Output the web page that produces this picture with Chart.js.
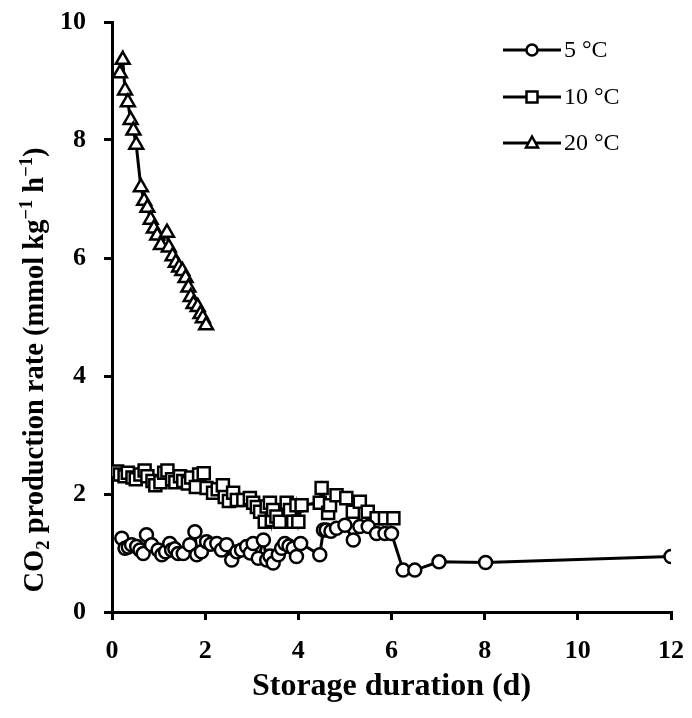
<!DOCTYPE html>
<html>
<head>
<meta charset="utf-8">
<script src="https://cdn.jsdelivr.net/npm/chart.js@4"></script>
<style>
  body { margin: 0; background: #fff; }
  canvas { display: block; }
</style>
</head>
<body>
<canvas id="co2Chart" width="692" height="718"></canvas>
<script>
// storage time (d) and CO2 rate (mmol kg-1 h-1)
var days5 = [0.21, 0.28, 0.35, 0.42, 0.53, 0.60, 0.67, 0.74, 0.85, 0.99, 1.07, 1.15, 1.24, 1.28, 1.35, 1.42, 1.53, 1.67, 1.78, 1.82, 1.92, 2.03, 2.12, 2.25, 2.35, 2.46, 2.57, 2.68, 2.78, 2.89, 2.97, 3.03, 3.14, 3.25, 3.32, 3.39, 3.46, 3.57, 3.64, 3.71, 3.80, 3.89, 3.96, 4.05, 4.46, 4.54, 4.60, 4.70, 4.82, 5.00, 5.18, 5.32, 5.50, 5.68, 5.86, 6.00, 6.25, 6.50, 7.02, 8.02, 12.0];
var rate5 = [1.25, 1.08, 1.10, 1.14, 1.11, 1.05, 0.99, 1.31, 1.14, 1.05, 0.97, 1.02, 1.16, 1.05, 1.07, 0.99, 0.99, 1.14, 1.36, 0.97, 1.02, 1.19, 1.15, 1.16, 1.05, 1.14, 0.88, 1.02, 1.05, 1.11, 1.00, 1.16, 0.91, 1.22, 0.88, 0.95, 0.83, 0.97, 1.08, 1.16, 1.12, 1.08, 0.94, 1.16, 0.97, 1.39, 1.39, 1.37, 1.42, 1.47, 1.22, 1.45, 1.45, 1.33, 1.33, 1.33, 0.71, 0.71, 0.85, 0.84, 0.94];

var days10 = [0.11, 0.17, 0.27, 0.34, 0.44, 0.51, 0.61, 0.70, 0.76, 0.87, 0.93, 1.04, 1.12, 1.19, 1.29, 1.36, 1.46, 1.53, 1.63, 1.70, 1.80, 1.87, 1.97, 2.03, 2.17, 2.27, 2.38, 2.42, 2.51, 2.60, 2.68, 2.82, 2.96, 3.03, 3.11, 3.18, 3.28, 3.32, 3.39, 3.43, 3.46, 3.53, 3.60, 3.75, 3.82, 3.89, 3.96, 4.00, 4.07, 4.46, 4.50, 4.64, 4.68, 4.82, 5.03, 5.17, 5.32, 5.49, 5.68, 5.86, 6.04];
var rate10 = [2.38, 2.33, 2.30, 2.36, 2.28, 2.25, 2.33, 2.40, 2.30, 2.22, 2.15, 2.20, 2.36, 2.40, 2.25, 2.20, 2.30, 2.22, 2.18, 2.28, 2.12, 2.33, 2.35, 2.10, 2.02, 2.08, 2.15, 1.95, 1.88, 2.02, 1.90, 1.90, 1.93, 1.85, 1.78, 1.70, 1.53, 1.79, 1.85, 1.56, 1.73, 1.62, 1.53, 1.85, 1.73, 1.53, 1.81, 1.53, 1.81, 1.85, 2.10, 1.68, 1.81, 1.98, 1.93, 1.70, 1.87, 1.70, 1.59, 1.59, 1.59];

var days20 = [0.17, 0.23, 0.28, 0.34, 0.40, 0.46, 0.52, 0.62, 0.69, 0.76, 0.83, 0.90, 0.97, 1.05, 1.18, 1.22, 1.30, 1.37, 1.44, 1.51, 1.58, 1.64, 1.69, 1.75, 1.84, 1.90, 1.95, 2.02];
var rate20 = [9.13, 9.36, 8.84, 8.64, 8.34, 8.16, 7.92, 7.20, 6.97, 6.85, 6.65, 6.50, 6.38, 6.22, 6.43, 6.18, 6.03, 5.92, 5.84, 5.78, 5.66, 5.50, 5.34, 5.22, 5.17, 5.05, 4.98, 4.86];

var seriesNames = ['5 °C', '10 °C', '20 °C'];
var xTicks = [0, 2, 4, 6, 8, 10, 12];
var yTicks = [0, 2, 4, 6, 8, 10];

var serif = '"Liberation Serif", "Times New Roman", serif';
var markerSize = { circle: 6.5, rect: 8.5, triangle: 8 };

function toPoints(xs, ys) {
    var pts = [];
    for (var i = 0; i < xs.length; i++) pts.push({ x: xs[i], y: ys[i] });
    return pts;
}

function makeSet(label, xs, ys, style) {
    return {
        label: label,
        data: toPoints(xs, ys),
        showLine: true,
        borderColor: '#000',
        borderWidth: 3,
        pointStyle: style,
        pointRadius: markerSize[style],
        pointBorderWidth: 2.5,
        pointBackgroundColor: '#fff',
        pointBorderColor: '#000'
    };
}

// legend drawn by hand: line - marker - line, then the label
var legendLines = {
    id: 'legendLines',
    afterDraw: function(chart) {
        var ctx = chart.ctx;
        var rowsY = [50, 97, 143];
        ctx.save();
        chart.data.datasets.forEach(function(ds, i) {
            var y = rowsY[i];
            ctx.strokeStyle = '#000';
            ctx.lineWidth = 3;
            ctx.beginPath();
            ctx.moveTo(503, y);
            ctx.lineTo(561, y);
            ctx.stroke();
            ctx.fillStyle = '#fff';
            ctx.lineWidth = 2.5;
            ctx.beginPath();
            if (ds.pointStyle === 'circle') ctx.arc(532, y, 5.5, 0, Math.PI * 2);
            else if (ds.pointStyle === 'rect') ctx.rect(526.5, y - 5.5, 11, 11);
            else { ctx.moveTo(532, y - 6.5); ctx.lineTo(538, y + 4.5); ctx.lineTo(526, y + 4.5); ctx.closePath(); }
            ctx.fill();
            ctx.stroke();
            ctx.fillStyle = '#000';
            ctx.font = '24px ' + serif;
            ctx.textBaseline = 'middle';
            ctx.textAlign = 'left';
            ctx.fillText(ds.label, 564, y + 1);
        });
        ctx.restore();
    }
};

// y title with subscript / superscripts
var yTitle = {
    id: 'yTitle',
    afterDraw: function(chart) {
        var ctx = chart.ctx;
        var size = 28.5;
        var parts = [
            { t: 'CO', k: 0 }, { t: '2', k: -1 },
            { t: ' production rate (mmol kg', k: 0 }, { t: '\u22121', k: 1 },
            { t: ' h', k: 0 }, { t: '\u22121', k: 1 }, { t: ')', k: 0 }
        ];
        ctx.save();
        ctx.translate(33, 370);
        ctx.rotate(-Math.PI / 2);
        ctx.fillStyle = '#000';
        ctx.textBaseline = 'alphabetic';
        ctx.textAlign = 'left';
        var total = 0;
        parts.forEach(function(p) {
            ctx.font = 'bold ' + (p.k ? size * 0.65 : size) + 'px ' + serif;
            p.w = ctx.measureText(p.t).width;
            total += p.w;
        });
        var x = -total / 2;
        var base = size * 0.35;
        parts.forEach(function(p) {
            ctx.font = 'bold ' + (p.k ? size * 0.65 : size) + 'px ' + serif;
            var dy = p.k === 1 ? -size * 0.38 : (p.k === -1 ? size * 0.2 : 0);
            ctx.fillText(p.t, x, base + dy);
            x += p.w;
        });
        ctx.restore();
    }
};

var tickFont = { family: serif, size: 26, weight: 'bold' };

new Chart(document.getElementById('co2Chart'), {
    type: 'scatter',
    data: {
        datasets: [
            makeSet(seriesNames[0], days5, rate5, 'circle'),
            makeSet(seriesNames[1], days10, rate10, 'rect'),
            makeSet(seriesNames[2], days20, rate20, 'triangle')
        ]
    },
    options: {
        responsive: false,
        animation: false,
        layout: { padding: { left: 0, right: 21, top: 22, bottom: 0 } },
        plugins: {
            legend: { display: false },
            tooltip: { enabled: false }
        },
        scales: {
            x: {
                type: 'linear',
                min: 0,
                max: 12,
                afterBuildTicks: function(s) { s.ticks = xTicks.map(function(v) { return { value: v }; }); },
                afterFit: function(s) {
                    s.height = 106;
                    s.paddingLeft = 0;
                    s.paddingRight = 0;
                },
                ticks: { color: '#000', font: tickFont, padding: 16, maxRotation: 0 },
                grid: { drawOnChartArea: false, drawTicks: true, tickLength: 8, lineWidth: 3, color: '#000' },
                border: { color: '#000', width: 3 },
                title: {
                    display: true,
                    text: 'Storage duration (d)',
                    color: '#000',
                    font: { family: serif, size: 32, weight: 'bold' },
                    padding: { top: 0, bottom: 12 }
                }
            },
            y: {
                type: 'linear',
                min: 0,
                max: 10,
                afterBuildTicks: function(s) { s.ticks = yTicks.map(function(v) { return { value: v }; }); },
                afterFit: function(s) {
                    s.width = 112;
                    s.paddingTop = 0;
                    s.paddingBottom = 0;
                },
                ticks: { color: '#000', font: tickFont, padding: 18 },
                grid: { drawOnChartArea: false, drawTicks: true, tickLength: 8, lineWidth: 3, color: '#000' },
                border: { color: '#000', width: 3 }
            }
        }
    },
    plugins: [legendLines, yTitle]
});
</script>
</body>
</html>
